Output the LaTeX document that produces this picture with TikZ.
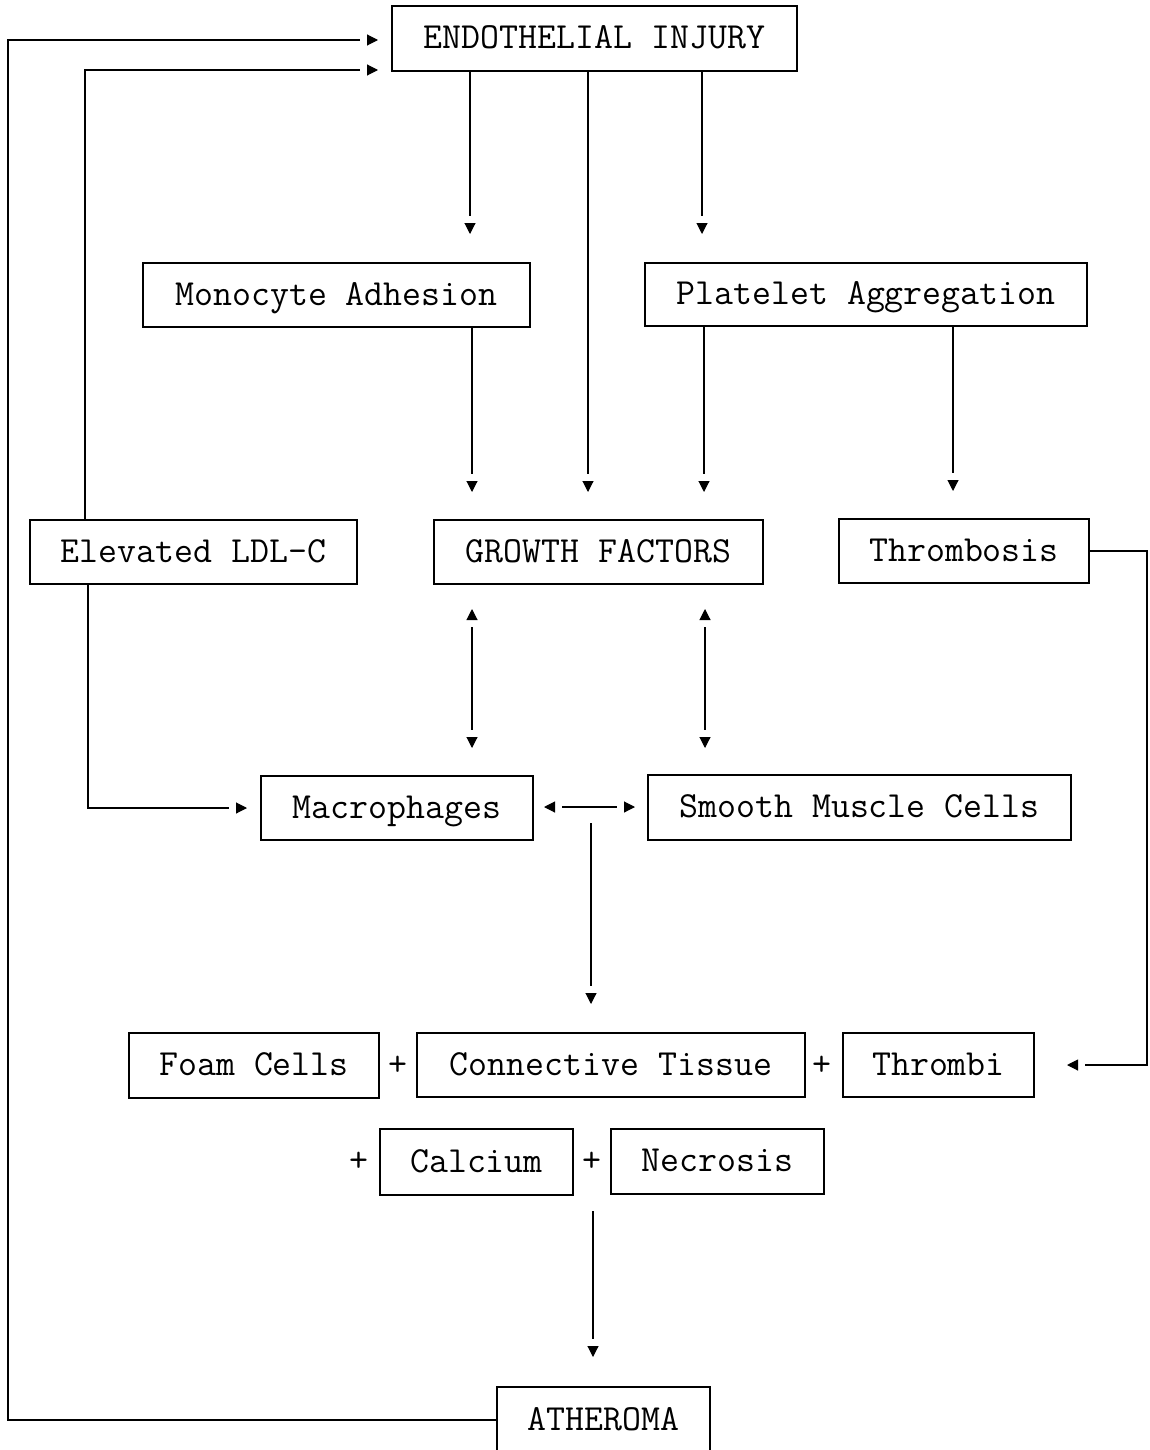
\documentclass[tikz,border=0pt]{standalone}
\usepackage{fontspec}
\usetikzlibrary{arrows.meta,calc}
\tikzset{
  txt/.style={inner sep=0pt, text height=26pt, text depth=6pt, font=\ttfamily\fontsize{36.8pt}{44pt}\selectfont},
  box/.style={txt, draw, line width=1.3pt},
  plus/.style={txt},
  conn/.style={line width=1.1pt},
  arr/.style={conn, -{Rectangle[length=7pt,width=1pt,color=white]Triangle[length=11pt,width=11pt]}},
  darr/.style={conn, {Triangle[length=11pt,width=11pt]Rectangle[length=7pt,width=1pt,color=white]}-{Rectangle[length=7pt,width=1pt,color=white]Triangle[length=11pt,width=11pt]}}
}
\begin{document}
\begin{tikzpicture}[x=1pt,y=-1pt]
\useasboundingbox[fill=white] (0,0) rectangle (1149,1450);
% boxes
\node[box, minimum width=405pt, minimum height=65pt] (endo) at (594.5,38.5) {ENDOTHELIAL INJURY};
\node[box, minimum width=387pt, minimum height=64pt] (mono) at (336.5,295) {Monocyte Adhesion};
\node[box, minimum width=442pt, minimum height=63pt] (plat) at (866,294.5) {Platelet Aggregation};
\node[box, minimum width=327pt, minimum height=64pt] (ldl) at (193.5,552) {Elevated LDL-C};
\node[box, minimum width=329pt, minimum height=64pt] (growth) at (598.5,552) {GROWTH FACTORS};
\node[box, minimum width=250pt, minimum height=64pt] (thromb) at (964,551) {Thrombosis};
\node[box, minimum width=272pt, minimum height=64pt] (macro) at (397,808) {Macrophages};
\node[box, minimum width=423pt, minimum height=65pt] (smooth) at (859.5,807.5) {Smooth Muscle Cells};
\node[box, minimum width=250pt, minimum height=65pt] (foam) at (254,1065.5) {Foam Cells};
\node[box, minimum width=388pt, minimum height=64pt] (ctiss) at (611,1065) {Connective Tissue};
\node[box, minimum width=191pt, minimum height=64pt] (thrombi) at (938.5,1065) {Thrombi};
\node[box, minimum width=193pt, minimum height=66pt] (calc) at (476.5,1162) {Calcium};
\node[box, minimum width=213pt, minimum height=65pt] (necro) at (717.5,1161.5) {Necrosis};
\node[box, minimum width=213pt, minimum height=66pt] (ather) at (603.5,1420) {ATHEROMA};
% plus signs
\node[plus] (p1) at (398,1065) {+};
\node[plus] (p2) at (822,1065) {+};
\node[plus] (p3) at (359,1161) {+};
\node[plus] (p4) at (592,1161) {+};
% free arrow ends
\coordinate (t1) at (378,40);
\coordinate (t2) at (378,70);
\coordinate (t3) at (470,234);
\coordinate (t4) at (702,234);
\coordinate (t5) at (588,492);
\coordinate (t6) at (472,492);
\coordinate (t7) at (704,492);
\coordinate (t8) at (953,491);
\coordinate (g1) at (472,609);
\coordinate (g2) at (472,748);
\coordinate (g3) at (705,609);
\coordinate (g4) at (705,748);
\coordinate (t11) at (247,808);
\coordinate (m1) at (544,807);
\coordinate (m2) at (635,807);
\coordinate (v1) at (591,823);
\coordinate (v2) at (591,1004);
\coordinate (t14) at (1067,1065);
\coordinate (a1) at (593,1211);
\coordinate (a2) at (593,1357);
% connectors
\draw[arr] (ather.west) -| (8,40) -- (t1);
\draw[arr] ($(ldl.north)+(-108.5,0)$) |- (t2);
\draw[arr] (endo.south -| t3) -- (t3);
\draw[arr] (endo.south -| t4) -- (t4);
\draw[arr] (endo.south -| t5) -- (t5);
\draw[arr] (mono.south -| t6) -- (t6);
\draw[arr] (plat.south -| t7) -- (t7);
\draw[arr] (plat.south -| t8) -- (t8);
\draw[darr] (g1) -- (g2);
\draw[darr] (g3) -- (g4);
\draw[arr] ($(ldl.south)+(-105.5,0)$) |- (t11);
\draw[darr] (m1) -- (m2);
\draw[arr] (v1) -- (v2);
\draw[arr] (thromb.east) -| (1147,1065) -- (t14);
\draw[arr] (a1) -- (a2);
\end{tikzpicture}
\end{document}
